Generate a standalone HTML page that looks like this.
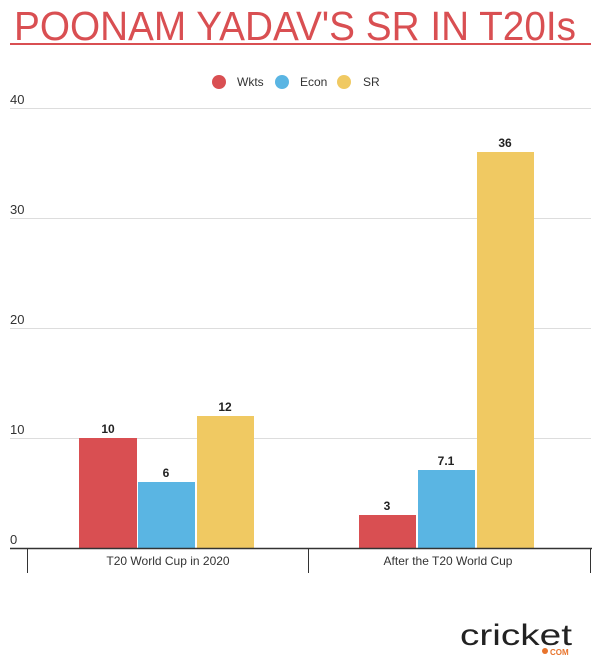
<!DOCTYPE html>
<html><head><style>
html,body{margin:0;padding:0;background:#fff;}
svg{display:block;font-family:"Liberation Sans",sans-serif;}
</style></head><body>
<svg width="600" height="669" viewBox="0 0 600 669">
<text x="14" y="40" font-size="41" fill="#d94f52" textLength="562" lengthAdjust="spacingAndGlyphs">POONAM YADAV'S SR IN T20Is</text>
<rect x="10" y="43" width="581" height="2" fill="#d94f52"/>
<circle cx="219" cy="82" r="7" fill="#d94f52"/>
<text x="237" y="86" font-size="12" fill="#333">Wkts</text>
<circle cx="282" cy="82" r="7" fill="#5ab5e3"/>
<text x="300" y="86" font-size="12" fill="#333">Econ</text>
<circle cx="344" cy="82" r="7" fill="#f0c962"/>
<text x="363" y="86" font-size="12" fill="#333">SR</text>
<g stroke="#ddd" stroke-width="1">
<line x1="10" y1="108.5" x2="591" y2="108.5"/>
<line x1="10" y1="218.5" x2="591" y2="218.5"/>
<line x1="10" y1="328.5" x2="591" y2="328.5"/>
<line x1="10" y1="438.5" x2="591" y2="438.5"/>
</g>
<g font-size="13" fill="#333">
<text x="10" y="104">40</text>
<text x="10" y="214">30</text>
<text x="10" y="324">20</text>
<text x="10" y="434">10</text>
<text x="10" y="544">0</text>
</g>
<rect x="79" y="438" width="58" height="110" fill="#d94f52"/>
<rect x="138" y="482" width="57" height="66" fill="#5ab5e3"/>
<rect x="197" y="416" width="57" height="132" fill="#f0c962"/>
<rect x="359" y="515" width="57" height="33" fill="#d94f52"/>
<rect x="418" y="470" width="57" height="78" fill="#5ab5e3"/>
<rect x="477" y="152" width="57" height="396" fill="#f0c962"/>
<g font-size="12" font-weight="bold" fill="#222" text-anchor="middle">
<text x="108" y="433">10</text>
<text x="166" y="477">6</text>
<text x="225" y="411">12</text>
<text x="387" y="510">3</text>
<text x="446" y="465">7.1</text>
<text x="505" y="147">36</text>
</g>
<line x1="10" y1="548.5" x2="592" y2="548.5" stroke="#333" stroke-width="1.5"/>
<g stroke="#333" stroke-width="1">
<line x1="27.5" y1="548" x2="27.5" y2="573"/>
<line x1="308.5" y1="548" x2="308.5" y2="573"/>
<line x1="590.5" y1="548" x2="590.5" y2="573"/>
</g>
<g font-size="12" fill="#333" text-anchor="middle">
<text x="168" y="565">T20 World Cup in 2020</text>
<text x="448" y="565">After the T20 World Cup</text>
</g>
<text x="460" y="645" font-size="30" fill="#222" textLength="112" lengthAdjust="spacingAndGlyphs">cricket</text>
<circle cx="545" cy="651" r="3" fill="#e8742c"/>
<text x="550" y="655" font-size="8" font-weight="bold" fill="#e8742c">COM</text>
</svg>
</body></html>
